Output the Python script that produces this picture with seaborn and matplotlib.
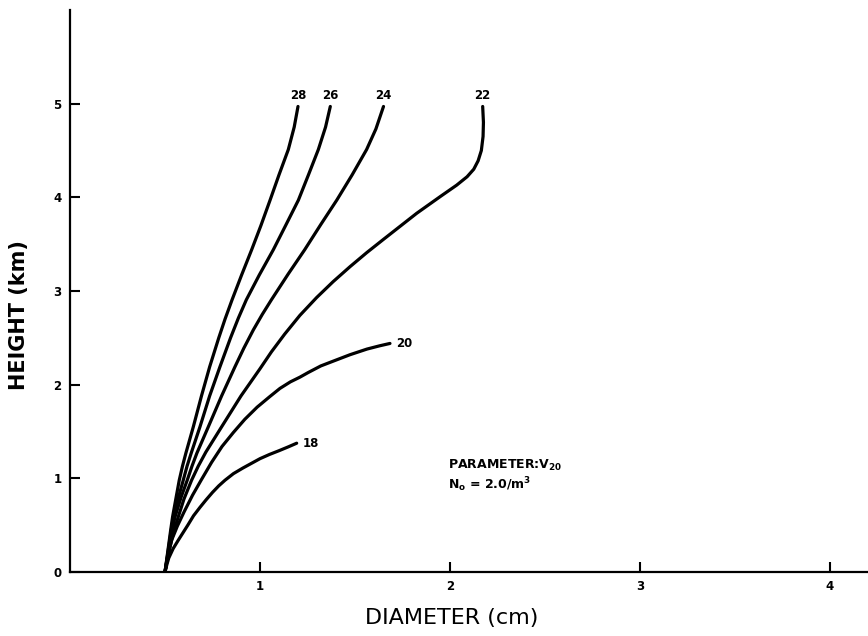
import matplotlib
matplotlib.use("Agg")
import matplotlib.pyplot as plt
import seaborn as sns
import pandas as pd

# ---- data (diameter in cm, height in km), one curve per V20 parameter ----
params = ["18", "20", "22", "24", "26", "28"]

d18 = [0.5, 0.51, 0.52, 0.543, 0.57, 0.595, 0.62, 0.65, 0.684, 0.716, 0.75, 0.783,
       0.816, 0.86, 0.91, 0.955, 1.0, 1.05, 1.1, 1.15, 1.193]
h18 = [0.0, 0.08, 0.15, 0.25, 0.34, 0.42, 0.50, 0.60, 0.69, 0.77, 0.85, 0.92,
       0.98, 1.05, 1.11, 1.16, 1.21, 1.255, 1.295, 1.337, 1.375]

d20 = [0.5, 0.515, 0.535, 0.565, 0.6, 0.645, 0.69, 0.745, 0.8, 0.86, 0.92, 0.985,
       1.05, 1.105, 1.16, 1.21, 1.254, 1.32, 1.384, 1.474, 1.563, 1.63, 1.684]
h20 = [0.0, 0.17, 0.34, 0.49, 0.64, 0.82, 0.98, 1.17, 1.34, 1.49, 1.63, 1.76,
       1.87, 1.96, 2.03, 2.08, 2.13, 2.20, 2.25, 2.32, 2.38, 2.415, 2.44]

d22 = [0.5, 0.513, 0.53, 0.548, 0.57, 0.6, 0.64, 0.675, 0.715, 0.798, 0.9, 1.0,
       1.06, 1.13, 1.21, 1.298, 1.385, 1.474, 1.562, 1.649, 1.737, 1.825, 1.95,
       2.035, 2.09, 2.125, 2.148, 2.165, 2.174, 2.176, 2.172]
h22 = [0.0, 0.15, 0.30, 0.45, 0.59, 0.78, 0.98, 1.13, 1.28, 1.55, 1.88, 2.17,
       2.35, 2.54, 2.74, 2.93, 3.10, 3.26, 3.41, 3.55, 3.69, 3.83, 4.01,
       4.13, 4.22, 4.30, 4.39, 4.50, 4.65, 4.80, 4.97]

d24 = [0.5, 0.512, 0.525, 0.538, 0.553, 0.585, 0.617, 0.642, 0.668, 0.728, 0.798,
       0.868, 0.915, 0.965, 1.012, 1.06, 1.148, 1.235, 1.32, 1.404, 1.485, 1.561,
       1.61, 1.65]
h24 = [0.0, 0.15, 0.30, 0.45, 0.59, 0.80, 0.98, 1.13, 1.27, 1.55, 1.88,
       2.19, 2.39, 2.585, 2.75, 2.906, 3.18, 3.44, 3.71, 3.97, 4.24, 4.51,
       4.73, 4.97]

d26 = [0.5, 0.511, 0.522, 0.533, 0.545, 0.57, 0.596, 0.616, 0.638, 0.684, 0.735,
       0.789, 0.845, 0.886, 0.928, 0.996, 1.07, 1.135, 1.202, 1.255, 1.307, 1.345,
       1.37]
h26 = [0.0, 0.15, 0.30, 0.45, 0.59, 0.79, 0.98, 1.13, 1.27, 1.55, 1.88,
       2.19, 2.50, 2.71, 2.906, 3.17, 3.44, 3.70, 3.97, 4.24, 4.51, 4.75,
       4.97]

d28 = [0.5, 0.51, 0.52, 0.53, 0.54, 0.557, 0.575, 0.592, 0.61, 0.649, 0.692,
       0.735, 0.783, 0.816, 0.853, 0.903, 0.956, 1.005, 1.053, 1.10, 1.149, 1.18,
       1.2]
h28 = [0.0, 0.15, 0.30, 0.45, 0.59, 0.78, 0.98, 1.13, 1.27, 1.55, 1.88,
       2.19, 2.50, 2.70, 2.906, 3.17, 3.44, 3.70, 3.97, 4.24, 4.51, 4.75,
       4.97]

x_ticks = [1, 2, 3, 4]
y_ticks = [0, 1, 2, 3, 4, 5]

curves = {"18": (d18, h18), "20": (d20, h20), "22": (d22, h22),
          "24": (d24, h24), "26": (d26, h26), "28": (d28, h28)}

rows = []
for p in params:
    d, h = curves[p]
    for i, (xv, yv) in enumerate(zip(d, h)):
        rows.append({"param": p, "order": i, "diameter": xv, "height": yv})
df = pd.DataFrame(rows)

# ---- style ----
sns.set_style("ticks")
plt.rcParams["font.family"] = ["DejaVu Sans"]
plt.rcParams["text.color"] = "black"
plt.rcParams["xtick.color"] = "black"
plt.rcParams["ytick.color"] = "black"

fig = plt.figure(figsize=(8.68, 6.36), dpi=100)
ax = fig.add_axes([70 / 868, 64 / 636, 798 / 868, 562 / 636])

sns.lineplot(data=df, x="diameter", y="height", hue="param", units="param",
             estimator=None, sort=False, palette=["black"] * len(params),
             linewidth=2.3, legend=False, ax=ax)
for ln in ax.get_lines():
    ln.set_solid_joinstyle("round")
    ln.set_solid_capstyle("round")

ax.set_xlim(0, 4.2)
ax.set_ylim(0, 6.0)
ax.set_xticks(x_ticks)
ax.set_yticks(y_ticks)
ax.set_xticklabels([str(t) for t in x_ticks], fontsize=8.5, fontweight="bold")
ax.set_yticklabels([str(t) for t in y_ticks], fontsize=8.5, fontweight="bold")
ax.tick_params(direction="in", length=7, width=1.5, color="black",
               labelcolor="black", pad=6)
for s in ["left", "bottom"]:
    ax.spines[s].set_linewidth(1.6)
    ax.spines[s].set_color("black")
sns.despine(ax=ax)

ax.set_xlabel("DIAMETER (cm)", fontsize=16, color="black",
              family=["DejaVu Sans Condensed", "Liberation Sans Narrow", "DejaVu Sans"])
ax.xaxis.set_label_coords((452 - 70) / 798, -0.064)
ax.set_ylabel("HEIGHT (km)", fontsize=15, fontweight="bold", color="black")
ax.yaxis.set_label_coords((29 - 70) / 798, 0.457)

# curve labels
lab_kw = dict(fontsize=8.5, fontweight="bold", color="black")
for p in ["22", "24", "26", "28"]:
    d, h = curves[p]
    ax.text(d[-1], 5.09, p, ha="center", va="center", **lab_kw)
ax.text(d20[-1] + 0.03, h20[-1], "20", ha="left", va="center", **lab_kw)
ax.text(d18[-1] + 0.03, h18[-1], "18", ha="left", va="center", **lab_kw)

ax.text(1.99, 1.14, r"PARAMETER:V$_{\mathbf{20}}$", ha="left", va="center",
        fontsize=9, fontweight="bold", color="black")
ax.text(1.99, 0.93, r"N$_{\mathbf{o}}$ = 2.0/m$^{\mathbf{3}}$", ha="left", va="center",
        fontsize=9, fontweight="bold", color="black")

fig.savefig("out.png", dpi=100)
